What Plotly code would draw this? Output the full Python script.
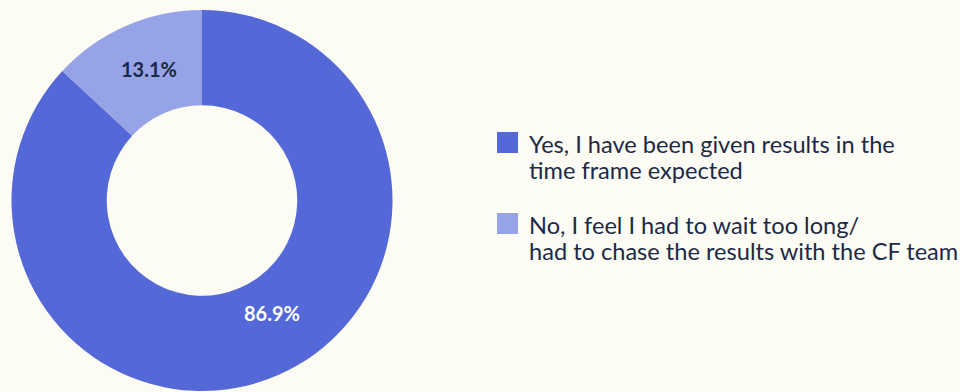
import plotly.graph_objects as go

# Survey responses: were results received in the expected time frame?
categories = [
    "Yes, I have been given results in the<br>time frame expected",
    "No, I feel I had to wait too long/<br>had to chase the results with the CF team",
]
shares = [86.9, 13.1]
colors = ["#5468D8", "#96A3E6"]
label_colors = ["#FFFFFF", "#1B2A47"]

W, H = 960, 392
BG = "#FCFBF4"
TEXT = "#1B2A47"
FONT = "Lato, 'Noto Sans', sans-serif"

# donut geometry in pixels
cx, cy, r_out = 202, 200.5, 190.5

fig = go.Figure(
    go.Pie(
        labels=[c.replace("<br>", " ") for c in categories],
        values=shares,
        hole=0.5,
        sort=False,
        direction="clockwise",
        rotation=0,
        marker=dict(colors=colors, line=dict(width=0)),
        textinfo="none",
        hoverinfo="label+percent",
        showlegend=False,
        domain=dict(
            x=[(cx - r_out) / W, (cx + r_out) / W],
            y=[1 - (cy + r_out) / H, 1 - (cy - r_out) / H],
        ),
    )
)

annotations = []

# percentage labels inside the ring (pixel anchors per slice)
label_pos = [(272, 313), (149, 69)]
for val, (px, py), col in zip(shares, label_pos, label_colors):
    annotations.append(
        dict(
            x=px / W, y=1 - py / H, xref="paper", yref="paper",
            text=f"<b>{val:.1f}%</b>", showarrow=False,
            font=dict(family=FONT, size=20, color=col),
            xanchor="center", yanchor="middle",
        )
    )

# legend drawn as swatches + wrapped text, one annotation per line
shapes = []
rows_y = [142.5, 223.5]
sw = 21
line_gap = 26
for cat, col, ry in zip(categories, colors, rows_y):
    shapes.append(
        dict(
            type="rect", xref="paper", yref="paper",
            x0=497 / W, x1=(497 + sw) / W,
            y0=1 - (ry + sw / 2) / H, y1=1 - (ry - sw / 2) / H,
            fillcolor=col, line=dict(width=0),
        )
    )
    for i, line in enumerate(cat.split("<br>")):
        annotations.append(
            dict(
                x=527 / W, y=1 - (ry + 1 + i * line_gap) / H,
                xref="paper", yref="paper",
                text=line, showarrow=False, align="left",
                font=dict(family=FONT, size=23.6, color=TEXT),
                xanchor="left", yanchor="middle",
            )
        )

fig.update_layout(
    width=W, height=H,
    margin=dict(l=0, r=0, t=0, b=0),
    paper_bgcolor=BG, plot_bgcolor=BG,
    annotations=annotations, shapes=shapes,
)

fig.write_html("out.html")
